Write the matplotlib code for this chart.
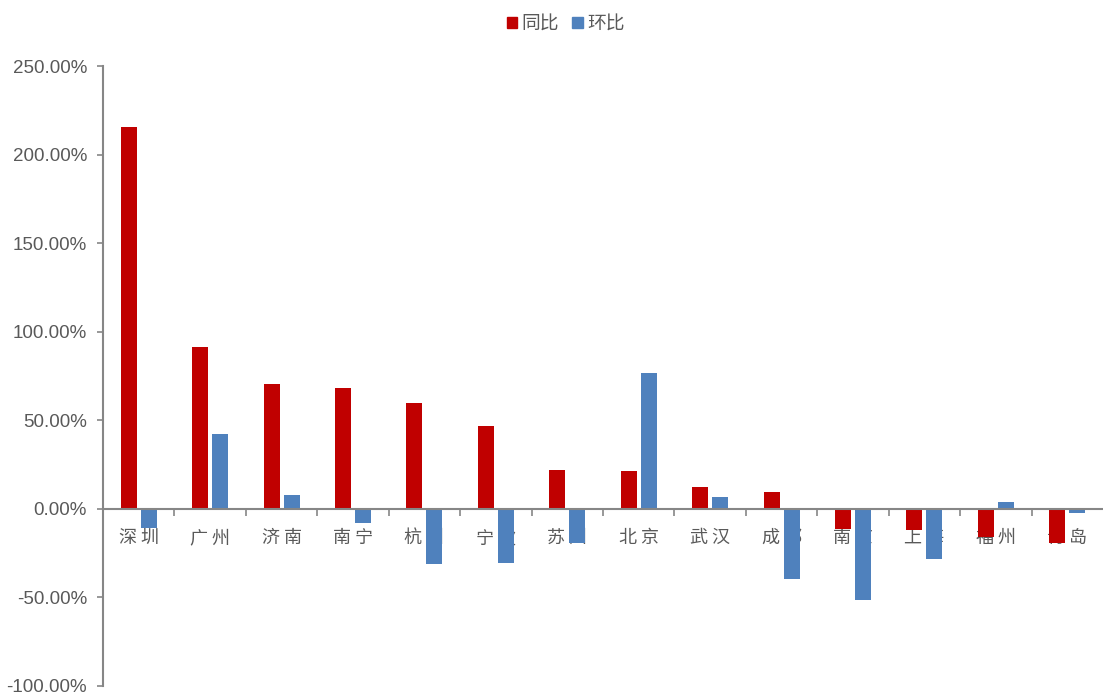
import matplotlib
matplotlib.use("Agg")
import matplotlib.pyplot as plt
import numpy as np
from matplotlib.patches import Patch
from matplotlib.ticker import FuncFormatter

plt.rcParams["font.family"] = ["Liberation Sans", "Noto Sans CJK SC", "DejaVu Sans"]

cities = ["深圳", "广州", "济南", "南宁", "杭州", "宁波", "苏州",
          "北京", "武汉", "成都", "南京", "上海", "福州", "青岛"]
yoy = [215.6, 91.4, 70.5, 68.3, 59.8, 46.8, 22.0,
       21.4, 12.4, 9.4, -11.5, -12.0, -15.8, -19.0]
mom = [-10.8, 42.3, 7.7, -8.0, -31.0, -30.6, -19.5,
       76.7, 6.6, -39.5, -51.7, -28.4, 3.7, -2.6]

RED = "#C00000"
BLUE = "#4F81BD"
GREY = "#595959"
AXIS = "#868686"

fig = plt.figure(figsize=(11.03, 6.97), dpi=100)
ax = fig.add_axes([0.0934, 0.0158, 0.9066, 0.8895])

x = np.arange(len(cities))
w = 0.225
gap = 0.055
ax.bar(x - (w + gap) / 2, yoy, width=w, color=RED, zorder=3)
ax.bar(x + (w + gap) / 2, mom, width=w, color=BLUE, zorder=3)

ax.set_xlim(-0.5, len(cities) - 0.5)
ax.set_ylim(-100, 250)
ax.set_yticks(np.arange(-100, 251, 50))
ax.yaxis.set_major_formatter(FuncFormatter(lambda v, _: f"{v:.2f}%"))
ax.tick_params(axis="y", direction="out", length=4.5, width=1.2, color=AXIS,
               labelcolor=GREY, labelsize=13.5, pad=7)

# category ticks sit between groups, on the zero line
ax.set_xticks(x[:-1] + 0.5)
ax.set_xticklabels([])
ax.tick_params(axis="x", direction="out", length=5, width=1.2, color=AXIS)

for s in ["top", "right"]:
    ax.spines[s].set_visible(False)
ax.spines["bottom"].set_position(("data", 0))
for s in ["bottom", "left"]:
    ax.spines[s].set_color(AXIS)
    ax.spines[s].set_linewidth(1.5)
    ax.spines[s].set_zorder(4)

for xi, name in zip(x, cities):
    ax.text(xi, -16.5, " ".join(name), ha="center", va="center", fontsize=13,
            color=GREY, family=["Noto Sans CJK SC", "DejaVu Sans"], zorder=1)

handles = [Patch(color=RED, label="同比"), Patch(color=BLUE, label="环比")]
fig.legend(handles=handles, loc="upper center", bbox_to_anchor=(0.513, 1.005), ncol=2,
           frameon=False, handlelength=0.55, handleheight=0.55,
           handletextpad=0.25, columnspacing=0.7, labelcolor=GREY,
           prop={"family": ["Noto Sans CJK SC", "DejaVu Sans"], "size": 13.5})

fig.savefig("out.png", dpi=100)
